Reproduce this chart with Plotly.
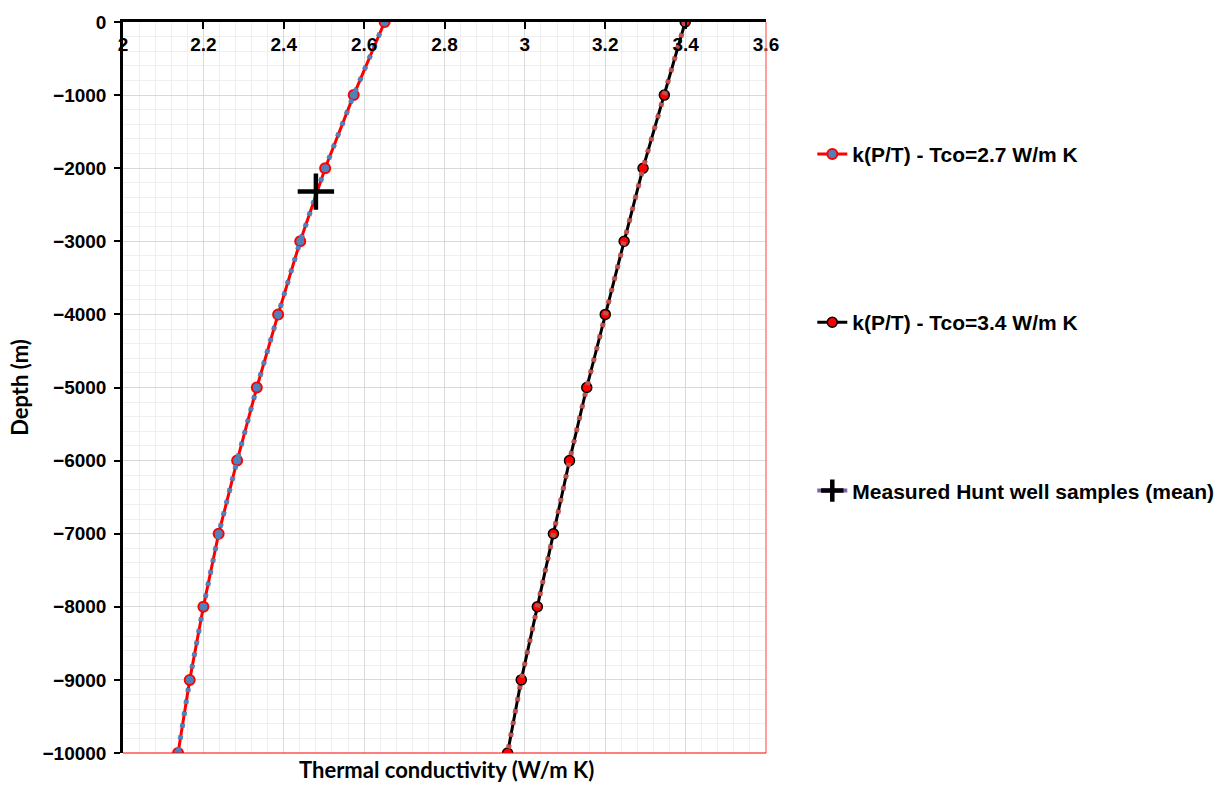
import plotly.graph_objects as go

depth = [0, -1000, -2000, -3000, -4000, -5000, -6000, -7000, -8000, -9000, -10000]
k_tco27 = [2.651, 2.574, 2.503, 2.441, 2.386, 2.333, 2.284, 2.238, 2.200, 2.166, 2.137]
k_tco34 = [3.399, 3.347, 3.294, 3.247, 3.200, 3.154, 3.111, 3.071, 3.031, 2.991, 2.957]
meas_k = [2.48]
meas_depth = [-2320]

names = ["k(P/T) - Tco=2.7 W/m K", "k(P/T) - Tco=3.4 W/m K", "Measured Hunt well samples (mean)"]

fig = go.Figure()

# Series 1: red line, blue markers, blue dotted overlay
fig.add_trace(go.Scatter(x=k_tco27, y=depth, mode="lines+markers", name=names[0],
                         legendgroup="a",
                         line=dict(color="#ff0000", width=3),
                         marker=dict(size=10, color="#4f81bd", line=dict(color="#ff0000", width=2))))
fig.add_trace(go.Scatter(x=k_tco27, y=depth, mode="lines", showlegend=False, hoverinfo="skip",
                         line=dict(color="#4f81bd", width=5, dash="4px,8px")))

# Series 2: black line, red markers, red dotted overlay
fig.add_trace(go.Scatter(x=k_tco34, y=depth, mode="lines+markers", name=names[1],
                         legendgroup="b",
                         line=dict(color="#000000", width=3),
                         marker=dict(size=10, color="#ff0000", line=dict(color="#000000", width=1.5))))
fig.add_trace(go.Scatter(x=k_tco34, y=depth, mode="lines", showlegend=False, hoverinfo="skip",
                         line=dict(color="#c0504d", width=5, dash="4px,8px")))

# Measured
fig.add_trace(go.Scatter(x=meas_k, y=meas_depth, mode="lines+markers", name=names[2],
                         legendgroup="c",
                         line=dict(color="#8064a2", width=4),
                         marker=dict(symbol="cross-thin", size=26, color="#000000",
                                     line=dict(color="#000000", width=4.5))))

# Red frame on right and bottom
fig.add_shape(type="line", xref="paper", yref="paper", x0=1, x1=1, y0=0, y1=1,
              line=dict(color="#ff6060", width=1.2), layer="above")
fig.add_shape(type="line", xref="paper", yref="paper", x0=0, x1=1, y0=0, y1=0,
              line=dict(color="#ff0000", width=1.2), layer="above")

tickfont = dict(family="Liberation Sans, Arial", size=19, color="#000000", weight="bold")

fig.update_layout(
    width=1231, height=785,
    margin=dict(l=123, r=464, t=16, b=32),
    plot_bgcolor="#ffffff", paper_bgcolor="#ffffff",
    showlegend=True,
    legend=dict(x=1.072, y=0.847, xanchor="left", yanchor="top",
                font=dict(family="Liberation Sans, Arial", size=21, color="#000000", weight="bold"),
                tracegroupgap=138, bgcolor="rgba(0,0,0,0)"),
    xaxis=dict(range=[2, 3.6], dtick=0.2, tick0=2, side="top",
               ticks="inside", ticklen=7, tickwidth=2, tickcolor="#000000",
               ticklabelposition="inside", ticklabeloverflow="allow", ticklabelstandoff=10,
               tickfont=tickfont,
               showline=True, linecolor="#000000", linewidth=2.5,
               showgrid=True, gridcolor="#d9d9d9", gridwidth=1.2,
               minor=dict(dtick=0.04, showgrid=True, gridcolor="#efefef", gridwidth=1),
               zeroline=False),
    yaxis=dict(range=[-10000, 0], dtick=1000, tickformat="d",
               ticks="outside", ticklen=6, tickwidth=2, tickcolor="#000000",
               tickfont=tickfont, ticklabelstandoff=4,
               showline=True, linecolor="#000000", linewidth=2.5,
               showgrid=True, gridcolor="#d9d9d9", gridwidth=1.2,
               minor=dict(dtick=200, showgrid=True, gridcolor="#efefef", gridwidth=1),
               zeroline=False,
               title=dict(text="Depth (m)", standoff=8,
                          font=dict(family="Lato, Open Sans", size=22, color="#000000", weight="bold"))),
)

fig.add_annotation(text="Thermal conductivity (W/m K)", xref="paper", yref="paper",
                   x=0.503, y=0, yshift=-1, xanchor="center", yanchor="top", showarrow=False,
                   font=dict(family="Lato, Open Sans", size=22, color="#000000", weight="bold"))

fig.write_html("out.html")
